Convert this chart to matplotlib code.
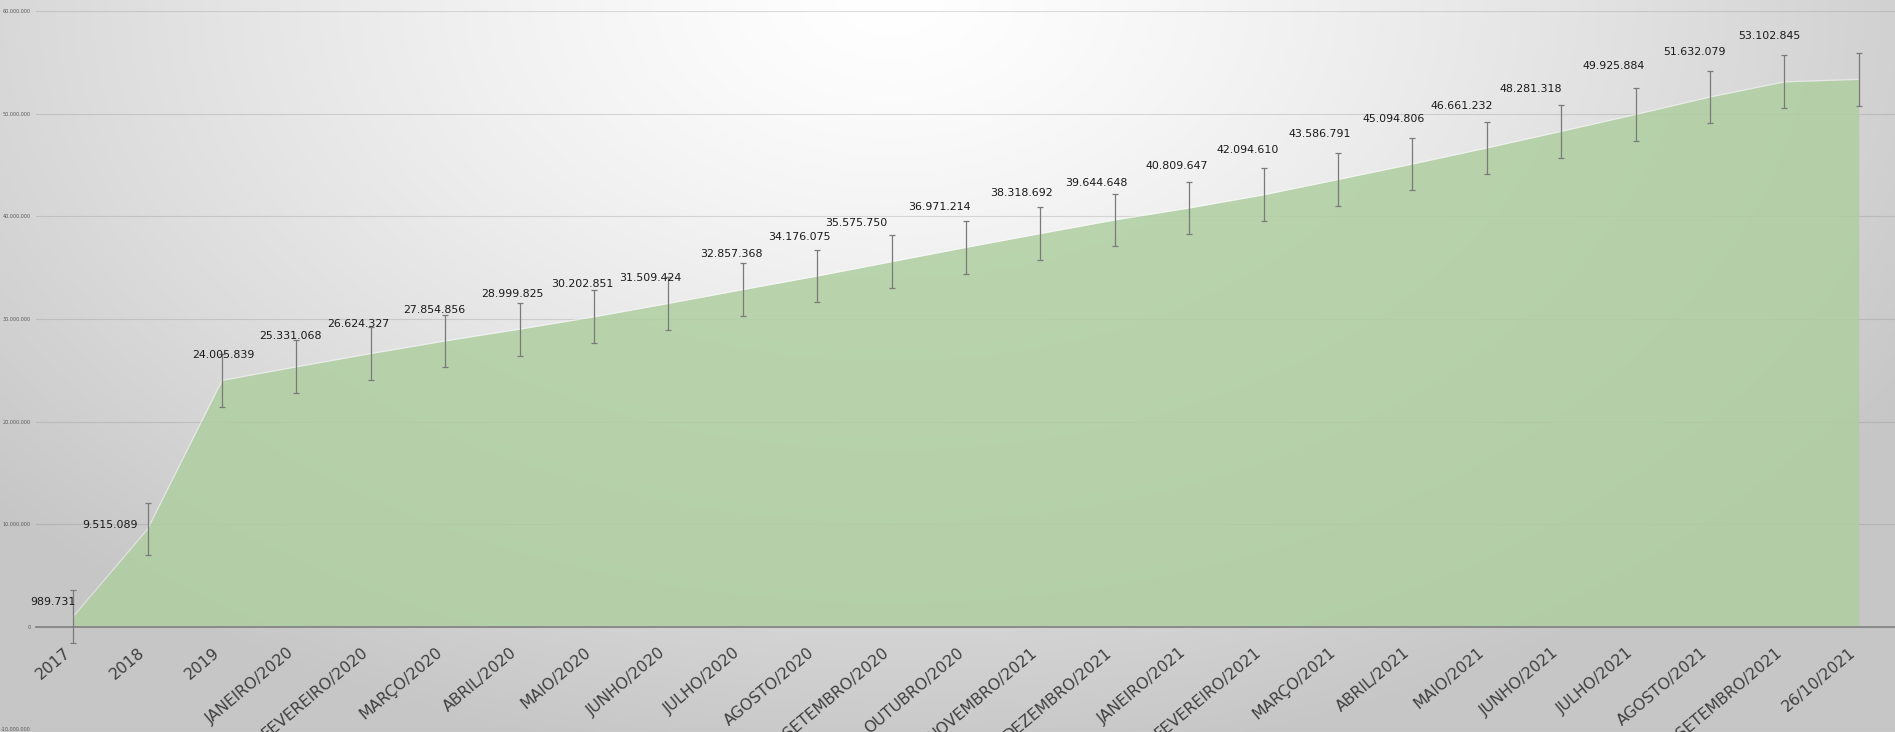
import numpy as np
import matplotlib.pyplot as plt
from matplotlib.ticker import FuncFormatter

# dados do grafico (vacinados acumulados)
categorias = ['2017', '2018', '2019', 'JANEIRO/2020', 'FEVEREIRO/2020', 'MARÇO/2020',
              'ABRIL/2020', 'MAIO/2020', 'JUNHO/2020', 'JULHO/2020', 'AGOSTO/2020',
              'SETEMBRO/2020', 'OUTUBRO/2020', 'NOVEMBRO/2021', 'DEZEMBRO/2021',
              'JANEIRO/2021', 'FEVEREIRO/2021', 'MARÇO/2021', 'ABRIL/2021', 'MAIO/2021',
              'JUNHO/2021', 'JULHO/2021', 'AGOSTO/2021', 'SETEMBRO/2021', '26/10/2021']
valores = [989731, 9515089, 24005839, 25331068, 26624327, 27854856, 28999825,
           30202851, 31509424, 32857368, 34176075, 35575750, 36971214, 38318692,
           39644648, 40809647, 42094610, 43586791, 45094806, 46661232, 48281318,
           49925884, 51632079, 53102845, 53350000]
# o ultimo ponto nao tem rotulo
mostrar_rotulo = [True] * 24 + [False]

# deslocamento dos rotulos em pixels (dx, dy)
rot_dx = [-20, -38, 1, -6, -12, -11, -7, -12, -18, -11, -18, -35, -27, -19, -18,
          -12, -16, -18, -19, -25, -30, -22, -16, -15, 0]
rot_dy = [15, 4, 25, 31, 30, 31, 35, 33, 25, 36, 39, 39, 40, 41, 37, 42, 45, 45,
          45, 42, 42, 48, 45, 46, 0]


def pontos(v, pos=None):
    return f'{int(v):,}'.replace(',', '.')


x = np.arange(len(categorias))
v = np.array(valores, dtype=float)
# barra de erro = erro padrao (como no Excel)
erro = v.std(ddof=1) / np.sqrt(len(v))

fig = plt.figure(figsize=(18.95, 7.32), dpi=100)

# fundo com gradiente radial
bg = fig.add_axes([0, 0, 1, 1], zorder=-10)
yy, xx = np.mgrid[0:1:400j, 0:1:1000j]
d = np.sqrt(((xx - 0.47) / 0.62) ** 2 + (yy / 1.05) ** 2)
d = np.clip(d, 0, 1)
g = 1 - 0.22 * d ** 1.3
bg.imshow(np.dstack([g, g, g]), extent=[0, 1, 0, 1], origin='upper', aspect='auto')
bg.axis('off')

ax = fig.add_axes([36 / 1895, 2.7 / 732, 1860 / 1895, 718.2 / 732])
ax.set_facecolor('none')
ax.set_xlim(-0.5, 24.5)
ax.set_ylim(-10e6, 60e6)

ax.set_axisbelow(True)
ax.yaxis.grid(True, color='#7f7f7f', alpha=0.25, lw=0.8)

ax.fill_between(x, 0, v, color='#afcfa0', alpha=0.85, lw=0, zorder=2)
ax.plot(x, v, color='white', lw=0.9, alpha=0.45, zorder=3)
ax.errorbar(x, v, yerr=erro, fmt='none', ecolor='#7a7a7a', elinewidth=0.9,
            capsize=2, capthick=0.9, zorder=4)

for i in range(len(v)):
    if mostrar_rotulo[i]:
        ax.annotate(pontos(valores[i]), (x[i], v[i]), xytext=(rot_dx[i], rot_dy[i]),
                    textcoords='offset pixels', ha='center', va='center',
                    fontsize=7.9, color='#1a1a1a', zorder=5)

for lado in ['top', 'right', 'left']:
    ax.spines[lado].set_visible(False)
ax.spines['bottom'].set_position(('data', 0))
ax.spines['bottom'].set_color('#868686')
ax.spines['bottom'].set_linewidth(1.3)

ax.set_xticks(x)
ax.set_xticklabels(categorias, rotation=40, ha='right', va='top',
                   fontsize=11.3, color='#404040')
ax.tick_params(axis='x', length=0, pad=13)

ax.set_yticks(np.arange(-10e6, 60e6 + 1, 10e6))
ax.yaxis.set_major_formatter(FuncFormatter(pontos))
ax.tick_params(axis='y', length=0, pad=4, labelsize=3.5, labelcolor='#595959')

fig.savefig('out.png', dpi=100)
